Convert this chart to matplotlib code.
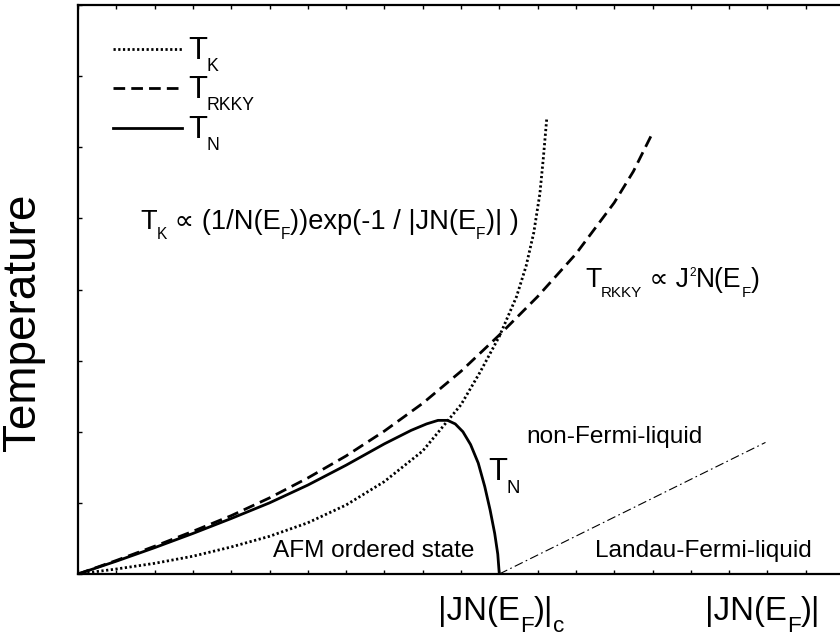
#!/usr/bin/env python3
"""Doniach-type phase diagram: Kondo vs RKKY temperature scales."""

import matplotlib
matplotlib.use("Agg")
import matplotlib.pyplot as plt
from matplotlib.transforms import IdentityTransform

plt.rcParams["font.family"] = ["Liberation Sans", "DejaVu Sans"]

W, H = 840, 640

# Kondo temperature (dotted)
j_k = [0, 1, 2, 3, 4, 5, 6, 7, 8, 9, 10, 10.5, 11, 11.45, 11.7, 11.9, 12.06, 12.15, 12.24]
t_k = [0, 0.07, 0.15, 0.25, 0.38, 0.53, 0.72, 0.97, 1.30, 1.73, 2.38, 2.84, 3.34, 3.90, 4.33, 4.80, 5.35, 5.85, 6.41]

# RKKY temperature (dashed)
j_rkky = [0, 1, 2, 3, 4, 5, 6, 7, 8, 9, 10, 11, 12, 13, 14, 14.5, 15]
t_rkky = [0, 0.19, 0.39, 0.60, 0.82, 1.07, 1.35, 1.66, 2.01, 2.40, 2.85, 3.36, 3.90, 4.50, 5.22, 5.66, 6.20]

# Neel temperature (solid)
j_n = [0, 1, 2, 3, 4, 5, 6, 7, 8, 8.7, 9.1, 9.4, 9.65, 9.85, 10.05, 10.25, 10.45,
       10.62, 10.76, 10.88, 10.96, 11.0]
t_n = [0, 0.18, 0.37, 0.57, 0.78, 1.00, 1.25, 1.53, 1.83, 2.02, 2.11, 2.16, 2.16, 2.11, 2.00, 1.82, 1.56,
       1.23, 0.90, 0.57, 0.28, 0]

# crossover into the Landau-Fermi-liquid (dash-dot)
j_lfl = [11.0, 17.95]
t_lfl = [0.0, 1.85]

fig = plt.figure(figsize=(W / 100, H / 100), dpi=100)
ax = fig.add_axes([78 / W, 66 / H, 766 / W, 569 / H])

ax.plot(j_k, t_k, color="black", lw=2.0, dashes=(0.8, 0.9), dash_capstyle="butt")
ax.plot(j_rkky, t_rkky, color="black", lw=2.0, dashes=(4.2, 2.2))
ax.plot(j_n, t_n, color="black", lw=2.0)
ax.plot(j_lfl, t_lfl, color="black", lw=0.8, dashes=(8, 3, 1.5, 3))

ax.set_xlim(0, 20)
ax.set_ylim(0, 8)
ax.set_xticks(range(0, 21))
ax.set_yticks(range(0, 9))
ax.tick_params(direction="in", length=3, width=1, top=True, right=True,
               labelbottom=False, labelleft=False)
for sp in ax.spines.values():
    sp.set_linewidth(1.6)

renderer = fig.canvas.get_renderer()


def rich(px, py, parts, em, sub=0.57, drop=0.38, sup=0.45, rise=0.42):
    """Write text piece by piece at pixel (px, py baseline from the top)."""
    x = px
    y = H - py
    for s, kind in parts:
        if kind == "sub":
            fs, dy = em * sub, -em * drop
        elif kind == "sup":
            fs, dy = em * sup, em * rise
        else:
            fs, dy = em, 0
        t = fig.text(x, y + dy, s, fontsize=fs * 0.72, transform=IdentityTransform(),
                     va="baseline", ha="left")
        x += t.get_window_extent(renderer).width


# legend
leg = [((0.8, 0.9), "K", 49), ((4.2, 2.2), "RKKY", 88), (None, "N", 128)]
for dash, name, ly in leg:
    kw = {"dashes": dash} if dash else {}
    fig.add_artist(plt.Line2D([113 / W, 182 / W], [1 - ly / H, 1 - ly / H],
                              color="black", lw=2.0, **kw))
    rich(188, ly + 10, [("T", "n"), (name, "sub")], 31)

# annotations
rich(140, 229, [("T", "n"), ("K", "sub"), (" \u221d (1/N(E", "n"), ("F", "sub"),
                ("))exp(-1 / |JN(E", "n"), ("F", "sub"), (")| )", "n")], 27.2)
rich(585, 287, [("T", "n"), ("RKKY", "sub"), (" \u221d J", "n"), ("2", "sup"),
                ("N(E", "n"), ("F", "sub"), (")", "n")], 26.5)
rich(488, 480, [("T", "n"), ("N", "sub")], 31, sub=0.6, drop=0.42)
rich(526, 443, [("non-Fermi-liquid", "n")], 24.4)
rich(273, 557, [("AFM ordered state", "n")], 24.4)
rich(595, 557, [("Landau-Fermi-liquid", "n")], 24.4)

# axis labels
rich(438, 620, [("|JN(E", "n"), ("F", "sub"), (")|", "n"), ("c", "sub")], 33, sub=0.68, drop=0.36)
rich(705, 620, [("|JN(E", "n"), ("F", "sub"), (")|", "n")], 33, sub=0.68, drop=0.36)
fig.text(45 / W, 1 - 322 / H, "Temperature", rotation=90, fontsize=33,
         ha="right", va="center")

fig.savefig("out.png", dpi=100)
